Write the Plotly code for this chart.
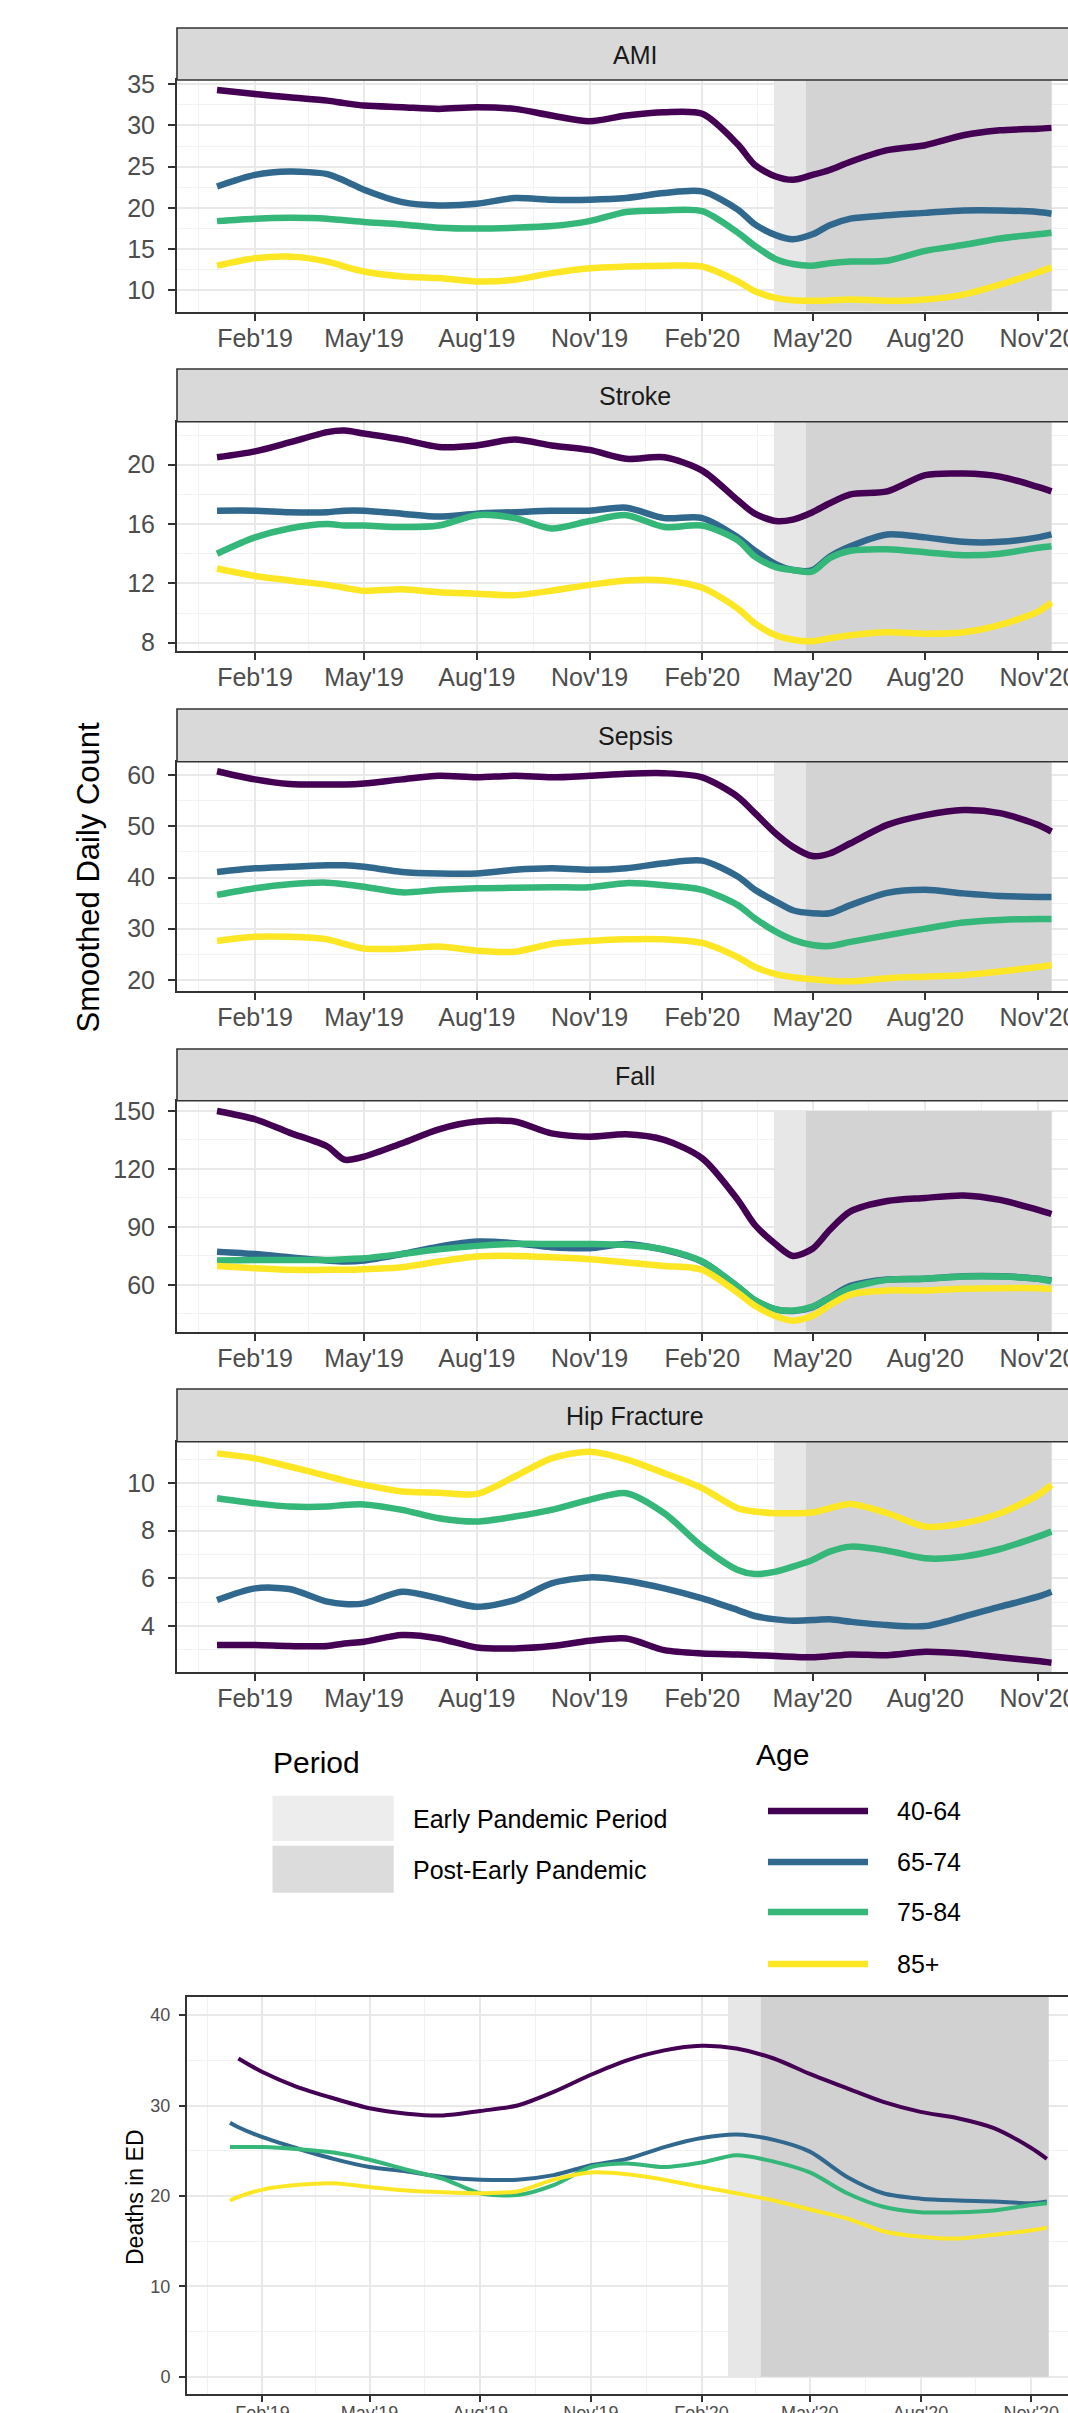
import plotly.graph_objects as go
import pandas as pd

W, H = 1068, 2413
FONT = "Liberation Sans, Arial, sans-serif"

# ---------------- data ----------------
dates = ["2019-01-01", "2019-02-01", "2019-03-01", "2019-04-01", "2019-04-15", "2019-05-01",
         "2019-06-01", "2019-07-01", "2019-08-01", "2019-09-01", "2019-10-01", "2019-11-01",
         "2019-12-01", "2020-01-01", "2020-02-01", "2020-03-01", "2020-03-15", "2020-04-01",
         "2020-04-15", "2020-05-01", "2020-05-15", "2020-06-01", "2020-07-01", "2020-08-01",
         "2020-09-01", "2020-10-01", "2020-11-01", "2020-11-12"]

age_groups = ["40-64", "65-74", "75-84", "85+"]
age_colors = ["#440154", "#31688e", "#35b779", "#fde725"]
panel_titles = ["AMI", "Stroke", "Sepsis", "Fall", "Hip Fracture"]

ami_40_64 = [34.3, 33.8, 33.4, 33.0, 32.7, 32.4, 32.2, 32.0, 32.2, 32.0, 31.2, 30.5, 31.2, 31.6,
             31.4, 27.7, 25.2, 23.8, 23.4, 24.0, 24.6, 25.6, 27.0, 27.6, 28.8, 29.4, 29.6, 29.7]
ami_65_74 = [22.6, 24.0, 24.4, 24.1, 23.3, 22.2, 20.7, 20.3, 20.5, 21.2, 21.0, 21.0, 21.2, 21.8,
             22.0, 19.8, 18.0, 16.7, 16.2, 16.8, 17.9, 18.7, 19.1, 19.4, 19.7, 19.7, 19.5, 19.3]
ami_75_84 = [18.4, 18.7, 18.8, 18.7, 18.5, 18.3, 18.0, 17.6, 17.5, 17.6, 17.8, 18.4, 19.5, 19.7,
             19.6, 17.0, 15.4, 13.8, 13.2, 13.0, 13.3, 13.5, 13.6, 14.8, 15.5, 16.3, 16.8, 17.0]
ami_85p = [13.0, 13.9, 14.1, 13.5, 12.9, 12.3, 11.7, 11.5, 11.1, 11.3, 12.1, 12.7, 12.9, 13.0,
           12.9, 11.1, 9.9, 9.1, 8.8, 8.75, 8.8, 8.9, 8.75, 8.9, 9.5, 10.7, 12.2, 12.8]

stroke_40_64 = [20.5, 20.9, 21.5, 22.2, 22.3, 22.1, 21.7, 21.2, 21.3, 21.7, 21.3, 21.0, 20.4, 20.5,
                19.6, 17.6, 16.7, 16.2, 16.3, 16.8, 17.4, 18.0, 18.2, 19.3, 19.4, 19.2, 18.5, 18.2]
stroke_65_74 = [16.9, 16.9, 16.8, 16.8, 16.9, 16.9, 16.7, 16.5, 16.7, 16.8, 16.9, 16.9, 17.1, 16.4,
                16.4, 15.1, 14.2, 13.3, 12.9, 12.9, 13.8, 14.5, 15.3, 15.1, 14.8, 14.8, 15.1, 15.3]
stroke_75_84 = [14.0, 15.1, 15.7, 16.0, 15.9, 15.9, 15.8, 15.9, 16.6, 16.4, 15.7, 16.2, 16.6, 15.8,
                15.9, 14.9, 13.8, 13.1, 12.9, 12.8, 13.7, 14.2, 14.3, 14.1, 13.9, 14.0, 14.4, 14.5]
stroke_85p = [13.0, 12.5, 12.2, 11.9, 11.7, 11.5, 11.6, 11.4, 11.3, 11.2, 11.5, 11.9, 12.2, 12.2,
              11.7, 10.3, 9.3, 8.5, 8.2, 8.1, 8.3, 8.5, 8.7, 8.6, 8.7, 9.2, 10.1, 10.7]

sepsis_40_64 = [60.8, 59.2, 58.3, 58.2, 58.2, 58.4, 59.2, 59.9, 59.6, 59.9, 59.6, 59.9, 60.3, 60.4,
                59.6, 55.8, 52.6, 48.6, 46.0, 44.2, 44.7, 46.7, 50.3, 52.2, 53.2, 52.6, 50.3, 49.0]
sepsis_65_74 = [41.1, 41.8, 42.1, 42.4, 42.4, 42.1, 41.1, 40.8, 40.8, 41.5, 41.8, 41.5, 41.8, 42.8,
                43.3, 40.2, 37.6, 35.3, 33.6, 33.0, 33.0, 34.6, 37.0, 37.6, 36.9, 36.4, 36.2, 36.2]
sepsis_75_84 = [36.6, 37.9, 38.7, 39.0, 38.7, 38.2, 37.1, 37.6, 37.9, 38.0, 38.1, 38.1, 38.9, 38.5,
                37.6, 34.6, 32.0, 29.4, 27.8, 26.8, 26.6, 27.4, 28.7, 30.0, 31.2, 31.7, 31.9, 31.9]
sepsis_85p = [27.6, 28.4, 28.4, 27.9, 27.0, 26.1, 26.1, 26.5, 25.7, 25.5, 27.0, 27.6, 27.9, 27.9,
              27.2, 24.4, 22.5, 21.1, 20.5, 20.1, 19.8, 19.7, 20.3, 20.6, 20.9, 21.6, 22.5, 22.9]

fall_40_64 = [150.0, 145.7, 138.8, 131.6, 124.8, 126.4, 133.3, 140.5, 144.5, 144.5, 138.4, 136.7,
              137.9, 135.0, 125.5, 104.0, 91.0, 81.0, 75.0, 78.7, 88.4, 98.0, 103.4, 105.0, 106.3,
              104.0, 98.8, 96.7]
fall_65_74 = [77.2, 76.0, 74.3, 72.6, 72.1, 72.6, 76.0, 79.8, 82.4, 81.6, 79.5, 79.0, 81.2, 78.1,
              72.0, 59.0, 52.0, 47.4, 46.5, 48.5, 53.5, 59.5, 62.8, 63.2, 64.5, 64.5, 63.2, 62.3]
fall_75_84 = [72.6, 72.9, 72.9, 72.9, 73.3, 73.8, 76.0, 78.4, 80.2, 81.2, 81.2, 81.2, 80.7, 78.4,
              72.1, 59.1, 52.2, 47.4, 46.7, 48.8, 53.2, 58.5, 62.6, 63.2, 64.3, 64.3, 63.2, 61.9]
fall_85p = [69.8, 68.6, 67.8, 67.8, 67.8, 68.1, 69.1, 72.1, 74.7, 75.0, 74.3, 73.3, 71.6, 69.8,
            67.8, 55.9, 49.2, 43.8, 41.5, 44.0, 49.5, 55.0, 57.1, 57.1, 58.0, 58.3, 58.3, 57.9]

hip_40_64 = [3.20, 3.20, 3.16, 3.16, 3.27, 3.34, 3.62, 3.48, 3.10, 3.06, 3.16, 3.38, 3.48, 2.99,
             2.85, 2.81, 2.78, 2.74, 2.71, 2.69, 2.74, 2.81, 2.78, 2.92, 2.85, 2.69, 2.53, 2.46]
hip_65_74 = [5.09, 5.58, 5.55, 5.02, 4.92, 4.95, 5.44, 5.16, 4.81, 5.09, 5.79, 6.04, 5.90, 5.58,
             5.16, 4.67, 4.42, 4.28, 4.22, 4.25, 4.28, 4.18, 4.04, 4.00, 4.39, 4.81, 5.23, 5.44]
hip_75_84 = [9.36, 9.15, 9.01, 9.01, 9.08, 9.10, 8.87, 8.52, 8.38, 8.59, 8.87, 9.29, 9.57, 8.73,
             7.33, 6.35, 6.18, 6.28, 6.49, 6.77, 7.12, 7.33, 7.16, 6.84, 6.91, 7.23, 7.75, 7.96]
hip_85p = [11.24, 11.03, 10.69, 10.29, 10.10, 9.92, 9.64, 9.59, 9.54, 10.27, 11.03, 11.31, 10.99,
           10.41, 9.78, 8.94, 8.80, 8.73, 8.73, 8.76, 8.94, 9.12, 8.73, 8.17, 8.31, 8.73, 9.50, 9.92]

# bottom chart: deaths in ED
ed_dates = ["2019-01-05", "2019-01-12", "2019-02-01", "2019-03-01", "2019-04-01", "2019-05-01",
            "2019-06-01", "2019-07-01", "2019-08-01", "2019-09-01", "2019-10-01", "2019-11-01",
            "2019-12-01", "2020-01-01", "2020-02-01", "2020-03-01", "2020-04-01", "2020-05-01",
            "2020-06-01", "2020-07-01", "2020-08-01", "2020-09-01", "2020-10-01", "2020-11-01",
            "2020-11-14"]
ed_40_64 = [None, 35.2, 33.7, 32.1, 30.8, 29.7, 29.1, 28.9, 29.4, 30.0, 31.5, 33.4, 35.0, 36.1,
            36.6, 36.3, 35.2, 33.5, 31.9, 30.4, 29.3, 28.6, 27.5, 25.3, 24.1]
ed_65_74 = [28.1, 27.6, 26.5, 25.3, 24.1, 23.2, 22.7, 22.1, 21.8, 21.8, 22.3, 23.4, 24.1, 25.4,
            26.4, 26.8, 26.2, 24.9, 22.1, 20.3, 19.7, 19.5, 19.4, 19.2, 19.4]
ed_75_84 = [25.4, 25.4, 25.4, 25.2, 24.8, 24.0, 22.9, 21.9, 20.3, 20.1, 21.2, 23.2, 23.6, 23.2,
            23.7, 24.5, 23.8, 22.6, 20.3, 18.8, 18.2, 18.2, 18.4, 19.0, 19.2]
ed_85p = [19.5, 19.9, 20.7, 21.2, 21.4, 21.0, 20.6, 20.4, 20.3, 20.5, 21.8, 22.6, 22.4, 21.8,
          21.0, 20.3, 19.5, 18.5, 17.5, 16.1, 15.5, 15.3, 15.7, 16.2, 16.5]

panel_series = [
    [ami_40_64, ami_65_74, ami_75_84, ami_85p],
    [stroke_40_64, stroke_65_74, stroke_75_84, stroke_85p],
    [sepsis_40_64, sepsis_65_74, sepsis_75_84, sepsis_85p],
    [fall_40_64, fall_65_74, fall_75_84, fall_85p],
    [hip_40_64, hip_65_74, hip_75_84, hip_85p],
]
ed_series = [ed_40_64, ed_65_74, ed_75_84, ed_85p]

# periods
early_start, early_end, post_end = "2020-03-30 12:00", "2020-04-25 14:00", "2020-11-12 05:00"
ed_early_start, ed_early_end, ed_post_end = "2020-02-22 22:00", "2020-03-21 02:00", "2020-11-15 14:00"

# ---------------- layout helpers ----------------
def py(p):  # pixel row -> paper
    return 1 - p / H

def px(p):
    return p / W

panel_px = [(80, 311.5), (421.7, 651), (761.7, 991), (1100.7, 1331.7), (1441.7, 1672.3)]
strip_px = [(28, 80), (369, 421.7), (709, 761.7), (1049, 1100.7), (1389, 1441.7)]
y_ranges = [[7.45, 35.5], [7.44, 22.9], [17.8, 62.66], [35.8, 155.3], [2.06, 11.73]]
y_dticks = [5, 4, 10, 30, 2]
shade_top = [None, None, None, 150, None]
x_range = ["2018-11-29 08:00", "2020-11-25 12:00"]
ed_x_range = ["2018-11-30 07:00", "2020-12-01 14:00"]
ed_y_range = [-1.9, 42.0]

major_x = pd.date_range("2018-11-01", "2021-02-01", freq="3MS")
minor_x = [(major_x[i] + (major_x[i + 1] - major_x[i]) / 2).strftime("%Y-%m-%d")
           for i in range(len(major_x) - 1)]

GRID_MAJ = "#e9e9e9"
GRID_MIN = "#f2f2f2"
AX = "#333333"
TICKC = "#4d4d4d"
LIGHT = "#e7e7e7"
DARK = "#d3d3d3"

fig = go.Figure()
shapes = []
annotations = []
layout_axes = {}

def xaxis_cfg(domain, rng, anchor, fsize, ticklen, standoff):
    return dict(domain=domain, range=rng, type="date", anchor=anchor, automargin=False,
                tick0="2019-02-01", dtick="M3", tickformat="%b'%y",
                ticks="outside", ticklen=ticklen, tickwidth=2, tickcolor=AX,
                tickfont=dict(family=FONT, size=fsize, color=TICKC),
                ticklabelstandoff=standoff, ticklabeloverflow="allow",
                showgrid=True, gridcolor=GRID_MAJ, gridwidth=1.8,
                minor=dict(tickmode="array", tickvals=minor_x, showgrid=True,
                           gridcolor=GRID_MIN, gridwidth=1.1, ticks=""),
                showline=True, linecolor=AX, linewidth=2, mirror=True,
                zeroline=False)

def yaxis_cfg(domain, rng, anchor, dtick, fsize, ticklen, standoff):
    return dict(domain=domain, range=rng, anchor=anchor, automargin=False,
                tickmode="linear", tick0=0, dtick=dtick,
                ticks="outside", ticklen=ticklen, tickwidth=2, tickcolor=AX,
                tickfont=dict(family=FONT, size=fsize, color=TICKC),
                ticklabelstandoff=standoff,
                showgrid=True, gridcolor=GRID_MAJ, gridwidth=2.4,
                minor=dict(tickmode="linear", tick0=0, dtick=dtick / 2, showgrid=True,
                           gridcolor=GRID_MIN, gridwidth=1.4, ticks=""),
                showline=True, linecolor=AX, linewidth=2, mirror=False,
                zeroline=False)

def ax_names(n):
    s = "" if n == 1 else str(n)
    return "x" + s, "y" + s, "xaxis" + s, "yaxis" + s

def add_band(xa, ya, x0, x1, y0, y1, color):
    fig.add_trace(go.Scatter(x=[x0, x1, x1, x0, x0], y=[y0, y0, y1, y1, y0], mode="lines",
                             fill="toself", fillcolor=color, line=dict(width=0),
                             xaxis=xa, yaxis=ya, showlegend=False, hoverinfo="skip"))

for i in range(5):
    xa, ya, xkey, ykey = ax_names(i + 1)
    top, bot = panel_px[i]
    layout_axes[xkey] = xaxis_cfg([px(177), 1.0], x_range, ya, 25, 7, -4)
    layout_axes[ykey] = yaxis_cfg([py(bot), py(top)], y_ranges[i], xa, y_dticks[i], 25, 7, 8)
    # period shading
    y0 = y_ranges[i][0]
    y1 = y_ranges[i][1] if shade_top[i] is None else shade_top[i]
    add_band(xa, ya, early_start, early_end, y0, y1, LIGHT)
    add_band(xa, ya, early_end, post_end, y0, y1, DARK)
    for k in range(4):
        fig.add_trace(go.Scatter(x=dates, y=panel_series[i][k], mode="lines", xaxis=xa, yaxis=ya,
                                 line=dict(color=age_colors[k], width=6.5, shape="spline", smoothing=0.8),
                                 showlegend=False, hoverinfo="skip"))
    # strip
    s0, s1 = strip_px[i]
    shapes.append(dict(type="rect", xref="paper", yref="paper", x0=px(177), x1=1.05,
                       y0=py(s1), y1=py(s0), fillcolor="#d9d9d9",
                       line=dict(color=AX, width=1.6)))
    annotations.append(dict(text=panel_titles[i], xref="paper", yref="paper",
                            x=px(635), y=py((s0 + s1) / 2 + 1), showarrow=False,
                            xanchor="center", yanchor="middle",
                            font=dict(family=FONT, size=25, color="#1a1a1a")))

# bottom chart
layout_axes["xaxis6"] = xaxis_cfg([px(187), 1.0], ed_x_range, "y6", 18, 6, -5)
layout_axes["yaxis6"] = yaxis_cfg([py(2394), py(1997)], ed_y_range, "x6", 10, 18, 6, 5)
add_band("x6", "y6", ed_early_start, ed_early_end, 0, ed_y_range[1], LIGHT)
add_band("x6", "y6", ed_early_end, ed_post_end, 0, ed_y_range[1], "#d1d1d1")
for k in range(4):
    fig.add_trace(go.Scatter(x=ed_dates, y=ed_series[k], mode="lines", xaxis="x6", yaxis="y6",
                             line=dict(color=age_colors[k], width=4, shape="spline", smoothing=0.8),
                             showlegend=False, hoverinfo="skip"))

# axis titles
annotations.append(dict(text="Smoothed Daily Count", xref="paper", yref="paper",
                        x=px(87.5), y=py(877), textangle=-90, showarrow=False,
                        xanchor="center", yanchor="middle",
                        font=dict(family=FONT, size=31, color="#000000")))
annotations.append(dict(text="Deaths in ED", xref="paper", yref="paper",
                        x=px(135), y=py(2197), textangle=-90, showarrow=False,
                        xanchor="center", yanchor="middle",
                        font=dict(family=FONT, size=23, color="#000000")))

# legend: Period
period_labels = ["Early Pandemic Period", "Post-Early Pandemic"]
period_fills = ["#ededed", "#dcdcdc"]
period_box_px = [(1795.7, 1841), (1845.7, 1892.7)]
annotations.append(dict(text="Period", xref="paper", yref="paper", x=px(271), y=py(1762),
                        showarrow=False, xanchor="left", yanchor="middle",
                        font=dict(family=FONT, size=30, color="#000000")))
for j in range(2):
    b0, b1 = period_box_px[j]
    shapes.append(dict(type="rect", xref="paper", yref="paper", x0=px(272.5), x1=px(393.7),
                       y0=py(b1), y1=py(b0), fillcolor=period_fills[j], line=dict(width=0)))
    annotations.append(dict(text=period_labels[j], xref="paper", yref="paper", x=px(411),
                            y=py((b0 + b1) / 2 + 1), showarrow=False, xanchor="left",
                            yanchor="middle", font=dict(family=FONT, size=25, color="#000000")))

# legend: Age
annotations.append(dict(text="Age", xref="paper", yref="paper", x=px(754), y=py(1754),
                        showarrow=False, xanchor="left", yanchor="middle",
                        font=dict(family=FONT, size=30, color="#000000")))
age_key_px = [1811, 1862, 1912, 1964]
for k in range(4):
    shapes.append(dict(type="line", xref="paper", yref="paper", x0=px(768), x1=px(868),
                       y0=py(age_key_px[k]), y1=py(age_key_px[k]),
                       line=dict(color=age_colors[k], width=6.5)))
    annotations.append(dict(text=age_groups[k], xref="paper", yref="paper", x=px(895),
                            y=py(age_key_px[k]), showarrow=False, xanchor="left", yanchor="middle",
                            font=dict(family=FONT, size=25, color="#000000")))

fig.update_layout(width=W, height=H, margin=dict(l=0, r=0, t=0, b=0, autoexpand=False),
                  paper_bgcolor="white", plot_bgcolor="white",
                  shapes=shapes, annotations=annotations, showlegend=False,
                  font=dict(family=FONT), **layout_axes)

fig.write_html("out.html", config={"displayModeBar": False},
               post_script="document.body.style.margin='0';")
